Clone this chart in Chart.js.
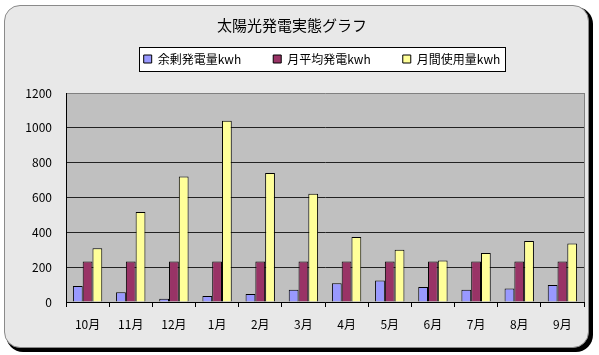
<!DOCTYPE html>
<html><head><meta charset="utf-8">
<script src="https://cdn.jsdelivr.net/npm/chart.js@4/dist/chart.umd.min.js"></script>
<style>
html,body{margin:0;padding:0;background:#fff;width:599px;height:355px;overflow:hidden}
#frame{position:absolute;left:4px;top:5px;width:583px;height:341px;border:1px solid #8a8a8a;border-radius:16px;background:#e8e8e8;box-shadow:3px 3px 0 1px #000;}
#wrap{position:absolute;left:0;top:0;width:599px;height:355px}
</style></head><body>
<div id="frame"></div>
<div id="wrap"><canvas id="c" width="599" height="355"></canvas></div>
<script>
const categories = ['10月','11月','12月','1月','2月','3月','4月','5月','6月','7月','8月','9月'];
const surplus = [92,56,19,35,46,71,108,123,86,71,77,98];
const avgGen  = [233,233,233,233,233,233,233,233,233,233,233,233];
const usage   = [309,517,720,1041,740,621,373,300,238,281,350,336];
const seriesNames = ['余剰発電量kwh','月平均発電kwh','月間使用量kwh'];
const yTicks = [0,200,400,600,800,1000,1200];
const titleText = '太陽光発電実態グラフ';

const FONT = "'Noto Sans CJK JP','Noto Sans',sans-serif";
const LEG_PAD = 32;       // horizontal spacing between legend items
const LEG_HEIGHT = 52;    // reserved vertical space for legend
const LEG_ITEM_TOP = 53;  // y of legend items
const LEG_SHIFT = 30;     // legend sits right of centre

const bgPlugin = {
  id: 'bg',
  beforeLayout(chart) {
    const lg = chart.legend;
    if (lg && !lg._patched) {
      const f = lg.fit.bind(lg);
      lg.fit = function () { f(); this.height = LEG_HEIGHT; };
      lg._patched = true;
    }
  },
  afterLayout(chart) {
    const lg = chart.legend;
    if (lg) {
      lg.top = LEG_ITEM_TOP - LEG_PAD;
      lg.bottom = lg.top + lg.height;
      lg.left += LEG_SHIFT;
      lg.right += LEG_SHIFT;
    }
  },
  beforeDraw(chart) {
    const {ctx, chartArea: a, legend} = chart;
    ctx.save();
    ctx.fillStyle = '#c0c0c0';
    ctx.fillRect(a.left, a.top, a.right - a.left, a.bottom - a.top);
    if (legend && legend.legendHitBoxes && legend.legendHitBoxes.length) {
      const hb = legend.legendHitBoxes;
      let l = Infinity, r = -Infinity, t = Infinity, b = -Infinity;
      hb.forEach(h => { l = Math.min(l, h.left); r = Math.max(r, h.left + h.width); t = Math.min(t, h.top); b = Math.max(b, h.top + h.height); });
      ctx.fillStyle = '#fff';
      ctx.strokeStyle = '#000';
      ctx.lineWidth = 1;
      const x = Math.round(l - 5) + 0.5, y = Math.round(t - 6) + 0.5;
      const w = Math.round(r - l + 9), h = Math.round(b - t + 12);
      ctx.fillRect(x, y, w, h);
      ctx.strokeRect(x, y, w, h);
    }
    ctx.restore();
  },
  afterDraw(chart) {
    const {ctx, chartArea: a} = chart;
    ctx.save();
    ctx.strokeStyle = '#808080';
    ctx.lineWidth = 1;
    ctx.beginPath();
    ctx.moveTo(Math.round(a.right) + 0.5, a.top);
    ctx.lineTo(Math.round(a.right) + 0.5, a.bottom);
    ctx.stroke();
    ctx.restore();
  }
};

const barStyle = {borderColor: '#000', borderWidth: 1, categoryPercentage: 0.68, barPercentage: 1.0};

new Chart(document.getElementById('c'), {
  type: 'bar',
  data: {
    labels: categories,
    datasets: [
      Object.assign({label: seriesNames[0], data: surplus, backgroundColor: '#9999ff'}, barStyle),
      Object.assign({label: seriesNames[1], data: avgGen, backgroundColor: '#993366'}, barStyle),
      Object.assign({label: seriesNames[2], data: usage, backgroundColor: '#ffff99'}, barStyle)
    ]
  },
  options: {
    responsive: false,
    devicePixelRatio: 1,
    animation: false,
    datasets: {bar: {categoryPercentage: 0.68, barPercentage: 1.0}},
    layout: {padding: {left: 0, right: 15, top: 8, bottom: 0}},
    plugins: {
      title: {display: true, text: titleText, color: '#000', font: {family: FONT, size: 15, weight: 'normal'}, padding: {top: 8, bottom: 7}},
      legend: {
        display: true,
        labels: {color: '#000', font: {family: FONT, size: 12}, boxWidth: 8, boxHeight: 8, padding: LEG_PAD}
      },
      tooltip: {enabled: false}
    },
    scales: {
      x: {
        grid: {display: true, drawOnChartArea: false, drawTicks: true, tickLength: 5, offset: true, color: '#000'},
        border: {display: true, color: '#000', width: 1},
        ticks: {color: '#000', font: {family: FONT, size: 12}, padding: 10, maxRotation: 0, autoSkip: false},
        afterFit(s) { s.height = 53; }
      },
      y: {
        min: 0, max: 1200,
        afterBuildTicks(s) { s.ticks = yTicks.map(v => ({value: v})); },
        grid: {color: ctx => (ctx.tick && ctx.tick.value === 1200) ? '#808080' : '#222', drawTicks: false, lineWidth: 1},
        border: {display: true, color: '#000', width: 1},
        ticks: {color: '#000', font: {family: FONT, size: 12}, padding: 14, callback: v => String(v)},
        afterFit(s) { s.width = 66; }
      }
    }
  },
  plugins: [bgPlugin]
});
</script>
</body></html>
